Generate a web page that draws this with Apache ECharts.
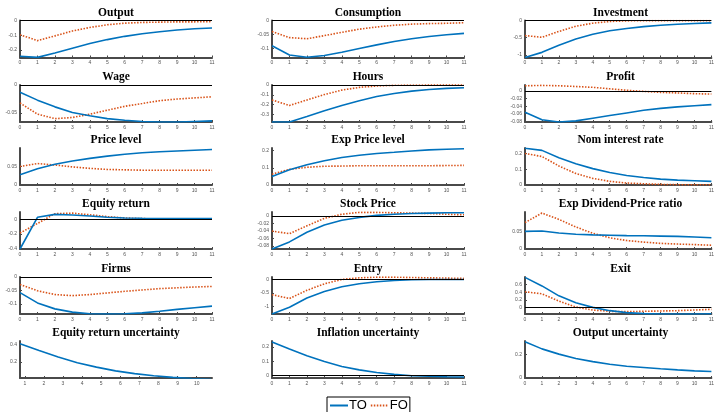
<!DOCTYPE html>
<html><head><meta charset="utf-8">
<script src="https://cdn.jsdelivr.net/npm/echarts@6/dist/echarts.min.js"></script>
<style>html,body{margin:0;padding:0;background:#fff;}#c{width:717px;height:412px;}</style>
</head><body><div id="c"></div>
<script>
// ---- data ----
const horizon = [0,1,2,3,4,5,6,7,8,9,10,11];
const horizonShifted = [0.75,1.75,2.75,3.75,4.75,5.75,6.75,7.75,8.75,9.75,10.75];
const xTicks = [0,1,2,3,4,5,6,7,8,9,10,11];
const xTicksShifted = [1,2,3,4,5,6,7,8,9,10];

const outputTO = [-0.242,-0.249,-0.22,-0.187,-0.156,-0.129,-0.107,-0.089,-0.076,-0.064,-0.056,-0.051];
const outputFO = [-0.096,-0.136,-0.104,-0.071,-0.047,-0.029,-0.018,-0.013,-0.011,-0.009,-0.009,-0.007];
const consumptionTO = [-0.09,-0.123,-0.131,-0.125,-0.113,-0.1,-0.087,-0.075,-0.065,-0.057,-0.051,-0.046];
const consumptionFO = [-0.039,-0.061,-0.065,-0.054,-0.042,-0.031,-0.023,-0.017,-0.013,-0.011,-0.01,-0.008];
const investmentTO = [-1.08,-0.93,-0.72,-0.54,-0.40,-0.30,-0.235,-0.18,-0.137,-0.108,-0.088,-0.07];
const investmentFO = [-0.44,-0.49,-0.32,-0.167,-0.078,-0.029,-0.01,-0.004,-0.003,-0.003,-0.003,-0.003];
const wageTO = [-0.013,-0.027,-0.039,-0.049,-0.055,-0.06,-0.063,-0.065,-0.066,-0.066,-0.065,-0.064];
const wageFO = [-0.032,-0.052,-0.06,-0.058,-0.052,-0.045,-0.038,-0.033,-0.028,-0.025,-0.023,-0.021];
const hoursTO = [-0.375,-0.375,-0.32,-0.262,-0.207,-0.159,-0.117,-0.086,-0.062,-0.045,-0.034,-0.028];
const hoursFO = [-0.152,-0.207,-0.152,-0.097,-0.052,-0.024,-0.01,-0.003,0.0,0.001,0.001,0.001];
const profitTO = [-0.056,-0.076,-0.082,-0.079,-0.072,-0.065,-0.058,-0.051,-0.046,-0.042,-0.039,-0.036];
const profitFO = [0.014,0.015,0.014,0.012,0.0098,0.006,0.002,-0.001,-0.0035,-0.005,-0.007,-0.008];
const priceTO = [0.028,0.044,0.056,0.065,0.072,0.078,0.083,0.087,0.09,0.092,0.094,0.096];
const priceFO = [0.05,0.058,0.054,0.049,0.045,0.042,0.041,0.04,0.04,0.04,0.04,0.04];
const expPriceTO = [0.05,0.088,0.118,0.141,0.16,0.173,0.183,0.19,0.198,0.204,0.208,0.211];
const expPriceFO = [0.063,0.091,0.103,0.109,0.11,0.112,0.112,0.112,0.112,0.112,0.113,0.114];
const nomRateTO = [0.233,0.22,0.173,0.135,0.104,0.079,0.06,0.048,0.0375,0.031,0.027,0.023];
const nomRateFO = [0.2,0.181,0.121,0.073,0.042,0.023,0.0125,0.008,0.004,0.002,0.002,0.002];
const eqReturnTO = [-0.41,0.027,0.067,0.058,0.044,0.027,0.018,0.013,0.009,0.009,0.008,0.008];
const eqReturnFO = [-0.19,-0.058,0.076,0.084,0.062,0.036,0.018,0.009,0.004,0.004,0.004,0.004];
const stockTO = [-0.088,-0.069,-0.043,-0.024,-0.011,-0.0035,0.002,0.005,0.007,0.008,0.009,0.009];
const stockFO = [-0.04,-0.047,-0.026,-0.006,0.005,0.01,0.01,0.009,0.008,0.007,0.005,0.0035];
const expDPTO = [0.05,0.051,0.0455,0.042,0.040,0.039,0.038,0.0375,0.0366,0.0357,0.034,0.032];
const expDPFO = [0.075,0.102,0.084,0.0625,0.0446,0.032,0.024,0.0196,0.016,0.014,0.0125,0.0107];
const firmsTO = [-0.058,-0.096,-0.118,-0.13,-0.136,-0.137,-0.136,-0.133,-0.127,-0.12,-0.114,-0.108];
const firmsFO = [-0.028,-0.051,-0.065,-0.069,-0.065,-0.059,-0.053,-0.048,-0.043,-0.04,-0.037,-0.035];
const entryTO = [-1.27,-1.02,-0.68,-0.44,-0.27,-0.16,-0.085,-0.037,-0.012,0.0,0.0,0.0];
const entryFO = [-0.56,-0.70,-0.40,-0.16,0.0,0.06,0.085,0.085,0.073,0.06,0.05,0.037];
const exitTO = [0.79,0.565,0.304,0.122,0.0,-0.087,-0.139,-0.165,-0.174,-0.175,-0.175,-0.17];
const exitFO = [0.41,0.357,0.165,0.009,-0.07,-0.104,-0.113,-0.104,-0.096,-0.087,-0.07,-0.052];
const eqUncTO = [0.408,0.33,0.255,0.19,0.14,0.097,0.065,0.04,0.022,0.01,0.0];
const inflUncTO = [0.233,0.184,0.138,0.098,0.064,0.04,0.022,0.009,0.0,-0.004,-0.007,-0.009];
const outUncTO = [0.304,0.244,0.2,0.164,0.137,0.115,0.099,0.088,0.077,0.068,0.06,0.055];

// y tick labels
const tOutput = [-0.2,-0.1,0];
const tConsumption = [-0.1,-0.05,0];
const tInvestment = [-1,-0.5,0];
const tWage = [-0.05,0];
const tHours = [-0.3,-0.2,-0.1,0];
const tProfit = [-0.08,-0.06,-0.04,-0.02,0];
const tPrice = [0,0.05];
const tExpPrice = [0,0.1,0.2];
const tNomRate = [0,0.1,0.2];
const tEqReturn = [-0.4,-0.2,0];
const tStock = [-0.08,-0.06,-0.04,-0.02,0];
const tExpDP = [0,0.05];
const tFirms = [-0.1,-0.05,0];
const tEntry = [-1,-0.5,0];
const tExit = [0,0.2,0.4,0.6];
const tEqUnc = [0.2,0.4];
const tInflUnc = [0,0.1,0.2];
const tOutUnc = [0,0.2];

const panels = [
  {title:'Output', to:outputTO, fo:outputFO, min:-0.25, max:0, ticks:tOutput},
  {title:'Consumption', to:consumptionTO, fo:consumptionFO, min:-0.132, max:0, ticks:tConsumption},
  {title:'Investment', to:investmentTO, fo:investmentFO, min:-1.08, max:0, ticks:tInvestment},
  {title:'Wage', to:wageTO, fo:wageFO, min:-0.066, max:0, ticks:tWage},
  {title:'Hours', to:hoursTO, fo:hoursFO, min:-0.375, max:0, ticks:tHours},
  {title:'Profit', to:profitTO, fo:profitFO, min:-0.082, max:0.016, ticks:tProfit},
  {title:'Price level', to:priceTO, fo:priceFO, min:0, max:0.1, ticks:tPrice},
  {title:'Exp Price level', to:expPriceTO, fo:expPriceFO, min:0, max:0.215, ticks:tExpPrice},
  {title:'Nom interest rate', to:nomRateTO, fo:nomRateFO, min:0, max:0.235, ticks:tNomRate},
  {title:'Equity return', to:eqReturnTO, fo:eqReturnFO, min:-0.41, max:0.1, ticks:tEqReturn},
  {title:'Stock Price', to:stockTO, fo:stockFO, min:-0.088, max:0.011, ticks:tStock},
  {title:'Exp Dividend-Price ratio', to:expDPTO, fo:expDPFO, min:0, max:0.105, ticks:tExpDP},
  {title:'Firms', to:firmsTO, fo:firmsFO, min:-0.137, max:0, ticks:tFirms},
  {title:'Entry', to:entryTO, fo:entryFO, min:-1.27, max:0.09, ticks:tEntry},
  {title:'Exit', to:exitTO, fo:exitFO, min:-0.175, max:0.8, ticks:tExit},
  {title:'Equity return uncertainty', to:eqUncTO, fo:null, min:0.015, max:0.44, ticks:tEqUnc, shifted:true},
  {title:'Inflation uncertainty', to:inflUncTO, fo:null, min:-0.016, max:0.24, ticks:tInflUnc},
  {title:'Output uncertainty', to:outUncTO, fo:null, min:0, max:0.31, ticks:tOutUnc}
];

// ---- layout ----
const colLeft = [20, 272, 525];
const colWidth = [192, 192, 191];
const rowTop = [20.5, 85, 148, 212, 277, 341];
const plotH = 37;
const BLUE = '#0072BD', RED = '#D95319', AXIS = '#4a4a4a';

const grid = [], xAxis = [], yAxis = [], series = [], title = [];
panels.forEach((p, i) => {
  const r = Math.floor(i / 3), c = i % 3;
  grid.push({left: colLeft[c], top: rowTop[r], width: colWidth[c], height: plotH});
  title.push({
    text: p.title, left: colLeft[c] + colWidth[c] / 2, top: rowTop[r] - 13.5, textAlign: 'center', padding: 0,
    textStyle: {fontFamily: 'Liberation Serif', fontWeight: 'bold', fontSize: 11.5, color: '#000'}
  });
  const xs = p.shifted ? horizonShifted : horizon;
  const xt = p.shifted ? xTicksShifted : xTicks;
  xAxis.push({
    type: 'value', gridIndex: i, min: p.shifted ? 0.75 : 0, max: p.shifted ? 10.8 : 11,
    axisLine: {show: true, onZero: false, lineStyle: {color: AXIS, width: 2}},
    axisTick: {show: true, inside: true, length: 2, customValues: xt, lineStyle: {color: AXIS, width: 1}},
    axisLabel: {show: true, customValues: xt, fontSize: 5, color: '#555', margin: 3, fontFamily: 'Liberation Sans'},
    splitLine: {show: false}
  });
  yAxis.push({
    type: 'value', gridIndex: i, min: p.min, max: p.max,
    axisLine: {show: true, onZero: false, lineStyle: {color: AXIS, width: 2}},
    axisTick: {show: true, inside: true, length: 2, customValues: p.ticks, lineStyle: {color: AXIS, width: 1}},
    axisLabel: {show: true, customValues: p.ticks, fontSize: 5, color: '#555', margin: 3, fontFamily: 'Liberation Sans',
      formatter: v => String(v)},
    splitLine: {show: false}
  });
  const hasZero = p.min < 0 && p.max >= 0;
  series.push({
    name: 'TO', type: 'line', xAxisIndex: i, yAxisIndex: i, symbol: 'none', z: 3,
    data: p.to.map((v, k) => [xs[k], v]),
    lineStyle: {color: BLUE, width: 1.6}, itemStyle: {color: BLUE},
    markLine: hasZero ? {silent: true, symbol: 'none', label: {show: false},
      lineStyle: {color: '#000', width: 1.2, type: 'solid'}, data: [{yAxis: 0}]} : undefined
  });
  if (p.fo) {
    series.push({
      name: 'FO', type: 'line', xAxisIndex: i, yAxisIndex: i, symbol: 'none', z: 2,
      data: p.fo.map((v, k) => [xs[k], v]),
      lineStyle: {color: RED, width: 1.6, type: [1.5, 1.5]}, itemStyle: {color: RED}
    });
  }
});

const chart = echarts.init(document.getElementById('c'), null, {renderer: 'canvas'});
chart.setOption({
  animation: false,
  backgroundColor: '#fff',
  title, grid, xAxis, yAxis, series,
  legend: {
    data: ['TO', 'FO'], left: 327, top: 397, orient: 'horizontal',
    itemWidth: 18, itemHeight: 8, itemGap: 3,
    itemStyle: {opacity: 0},
    borderColor: '#000', borderWidth: 1, padding: [2, 2, 3, 2],
    textStyle: {fontSize: 13, fontFamily: 'Liberation Sans', color: '#000', padding: [0, 0, 0, -4]}
  }
});
</script></body></html>
